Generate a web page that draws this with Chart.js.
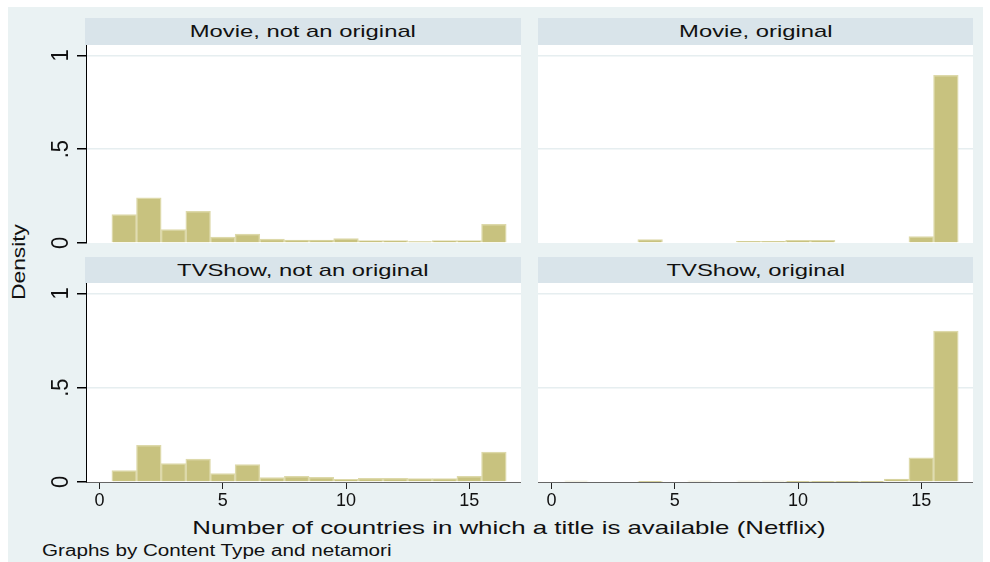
<!DOCTYPE html>
<html>
<head>
<meta charset="utf-8">
<script src="https://cdn.jsdelivr.net/npm/chart.js@4.4.0/dist/chart.umd.min.js"></script>
<style>
  html, body { margin: 0; padding: 0; background: #fff; }
  body { width: 990px; height: 562px; position: relative; overflow: hidden;
         font-family: "Liberation Sans", Arial, sans-serif; color: #111; }
  #bg { position: absolute; left: 8px; top: 7px; width: 975px; height: 555px; background: #eaf2f3; }
  .strip { position: absolute; height: 27px; background: #d9e4ea; text-align: center;
           font-size: 17px; line-height: 27px; white-space: nowrap; }
  .strip span { display: inline-block; transform: scaleX(1.4); }
  .lbl { position: absolute; white-space: nowrap; }
  canvas { position: absolute; }
</style>
</head>
<body>
<div id="bg"></div>

<div class="lbl" id="ytitle" style="left:19px; top:262px; font-size:19px; transform: translate(-50%,-50%) rotate(-90deg) scaleX(1.2);">Density</div>
<div class="lbl" id="xtitle" style="left:509px; top:528px; font-size:19px; transform: translate(-50%,-50%) scaleX(1.36);">Number of countries in which a title is available (Netflix)</div>
<div class="lbl" id="note" style="left:42px; top:551px; font-size:16px; transform-origin: left center; transform: translateY(-50%) scaleX(1.29);">Graphs by Content Type and netamori</div>

<script>
// histogram bins (width 1, centred on whole numbers of countries)
const binCenters = [1, 2, 3, 4, 5, 6, 7, 8, 9, 10, 11, 12, 13, 14, 15, 16];

// density per bin for each content type / netamori group
const movieNotOriginal = [0.152, 0.241, 0.072, 0.169, 0.032, 0.048, 0.021, 0.016, 0.016, 0.023, 0.013, 0.013, 0.008, 0.013, 0.013, 0.099];
const movieOriginal    = [0, 0, 0, 0.018, 0, 0, 0, 0.009, 0.009, 0.014, 0.014, 0, 0, 0, 0.034, 0.894];
const tvNotOriginal    = [0.061, 0.194, 0.098, 0.122, 0.045, 0.093, 0.023, 0.030, 0.025, 0.014, 0.020, 0.020, 0.018, 0.018, 0.030, 0.158];
const tvOriginal       = [0.005, 0, 0, 0.002, 0, 0.005, 0, 0.005, 0.005, 0.002, 0.002, 0.002, 0.002, 0.016, 0.128, 0.800];

const panelTitles = ['Movie, not an original', 'Movie, original', 'TVShow, not an original', 'TVShow, original'];
const xTicks = [0, 5, 10, 15];
const yTicks = [0, 0.5, 1];
const yTickLabels = ['0', '.5', '1'];

const FONT = '"Liberation Sans", Arial, sans-serif';
const BAR_FILL = '#c8c27f';
const BAR_LINE = '#ddd9aa';
const GRID = '#e6eef0';
const X_MIN = -0.55, X_MAX = 17.1, Y_MAX = 1.055;
const Y_AXIS_W = 46, X_AXIS_H = 40, LABEL_ROOM = 12;

const panels = [
  { title: panelTitles[0], values: movieNotOriginal, left: 86,  top: 45,  w: 435, h: 198, stripTop: 18,  yAxis: true,  xAxis: false },
  { title: panelTitles[1], values: movieOriginal,    left: 538, top: 45,  w: 435, h: 198, stripTop: 18,  yAxis: false, xAxis: false },
  { title: panelTitles[2], values: tvNotOriginal,    left: 86,  top: 283, w: 435, h: 199, stripTop: 257, yAxis: true,  xAxis: true },
  { title: panelTitles[3], values: tvOriginal,       left: 538, top: 283, w: 435, h: 199, stripTop: 257, yAxis: false, xAxis: true },
];

// white plot region behind the bars
const plotFill = {
  id: 'plotFill',
  beforeDraw(chart) {
    const { ctx, chartArea: a } = chart;
    ctx.save();
    ctx.fillStyle = '#fff';
    ctx.fillRect(a.left, a.top, a.right - a.left, a.bottom - a.top);
    ctx.restore();
  }
};

// stata-style vertical y labels
const vertLabels = {
  id: 'vertLabels',
  afterDraw(chart, args, opts) {
    if (!opts.show) return;
    const { ctx, chartArea: a } = chart;
    const ys = chart.scales.y;
    ctx.save();
    ctx.fillStyle = '#111';
    ctx.font = '20px ' + FONT;
    ctx.textAlign = 'center';
    ctx.textBaseline = 'middle';
    yTicks.forEach((v, i) => {
      ctx.save();
      ctx.translate(a.left - 24, ys.getPixelForValue(v));
      ctx.rotate(-Math.PI / 2);
      ctx.scale(1.1, 1.15);
      ctx.fillText(yTickLabels[i], 0, 0);
      ctx.restore();
    });
    ctx.restore();
  }
};

panels.forEach(p => {
  const strip = document.createElement('div');
  strip.className = 'strip';
  strip.style.left = (p.left - (p.yAxis ? 1 : 0)) + 'px';
  strip.style.top = p.stripTop + 'px';
  strip.style.width = (p.w + (p.yAxis ? 1 : 0)) + 'px';
  strip.innerHTML = '<span>' + p.title + '</span>';
  document.body.appendChild(strip);

  const cv = document.createElement('canvas');
  const offL = p.yAxis ? Y_AXIS_W : 0;
  const offB = p.xAxis ? X_AXIS_H : 0;
  // top row has no x axis, but its "0" label still hangs below the plot
  const padB = p.xAxis ? 0 : LABEL_ROOM;
  cv.width = p.w + offL;
  cv.height = p.h + offB + padB;
  cv.style.left = (p.left - offL) + 'px';
  cv.style.top = p.top + 'px';
  document.body.appendChild(cv);

  new Chart(cv.getContext('2d'), {
    type: 'bar',
    data: {
      datasets: [{
        data: binCenters.map((x, i) => ({ x, y: p.values[i] })),
        backgroundColor: BAR_FILL,
        borderColor: BAR_LINE,
        borderWidth: 1.5,
        barPercentage: 1,
        categoryPercentage: 1
      }]
    },
    options: {
      responsive: false,
      animation: false,
      devicePixelRatio: 1,
      layout: { padding: { left: 0, right: 0, top: 0, bottom: padB } },
      plugins: {
        legend: { display: false },
        tooltip: { enabled: false },
        vertLabels: { show: p.yAxis }
      },
      scales: {
        x: {
          type: 'linear',
          min: X_MIN, max: X_MAX,
          offset: false,
          display: p.xAxis,
          afterBuildTicks: s => { s.ticks = xTicks.map(v => ({ value: v })); },
          afterFit: s => { s.height = offB; },
          grid: { drawOnChartArea: false, drawTicks: true, tickLength: 7, tickColor: '#222', offset: false },
          border: { display: true, color: '#666', width: 1 },
          ticks: { color: '#111', font: { family: FONT, size: 18 }, padding: 1, maxRotation: 0, autoSkip: false }
        },
        y: {
          type: 'linear',
          min: 0, max: Y_MAX,
          afterBuildTicks: s => { s.ticks = yTicks.map(v => ({ value: v })); },
          afterFit: s => { s.width = offL; },
          grid: {
            color: c => (c.tick && c.tick.value === 0) ? 'rgba(0,0,0,0)' : GRID,
            lineWidth: 1.5,
            drawTicks: p.yAxis, tickLength: 9, tickColor: '#000'
          },
          border: { display: p.yAxis, color: '#000', width: 1 },
          ticks: { display: false }
        }
      }
    },
    plugins: [plotFill, vertLabels]
  });
});
</script>
</body>
</html>
